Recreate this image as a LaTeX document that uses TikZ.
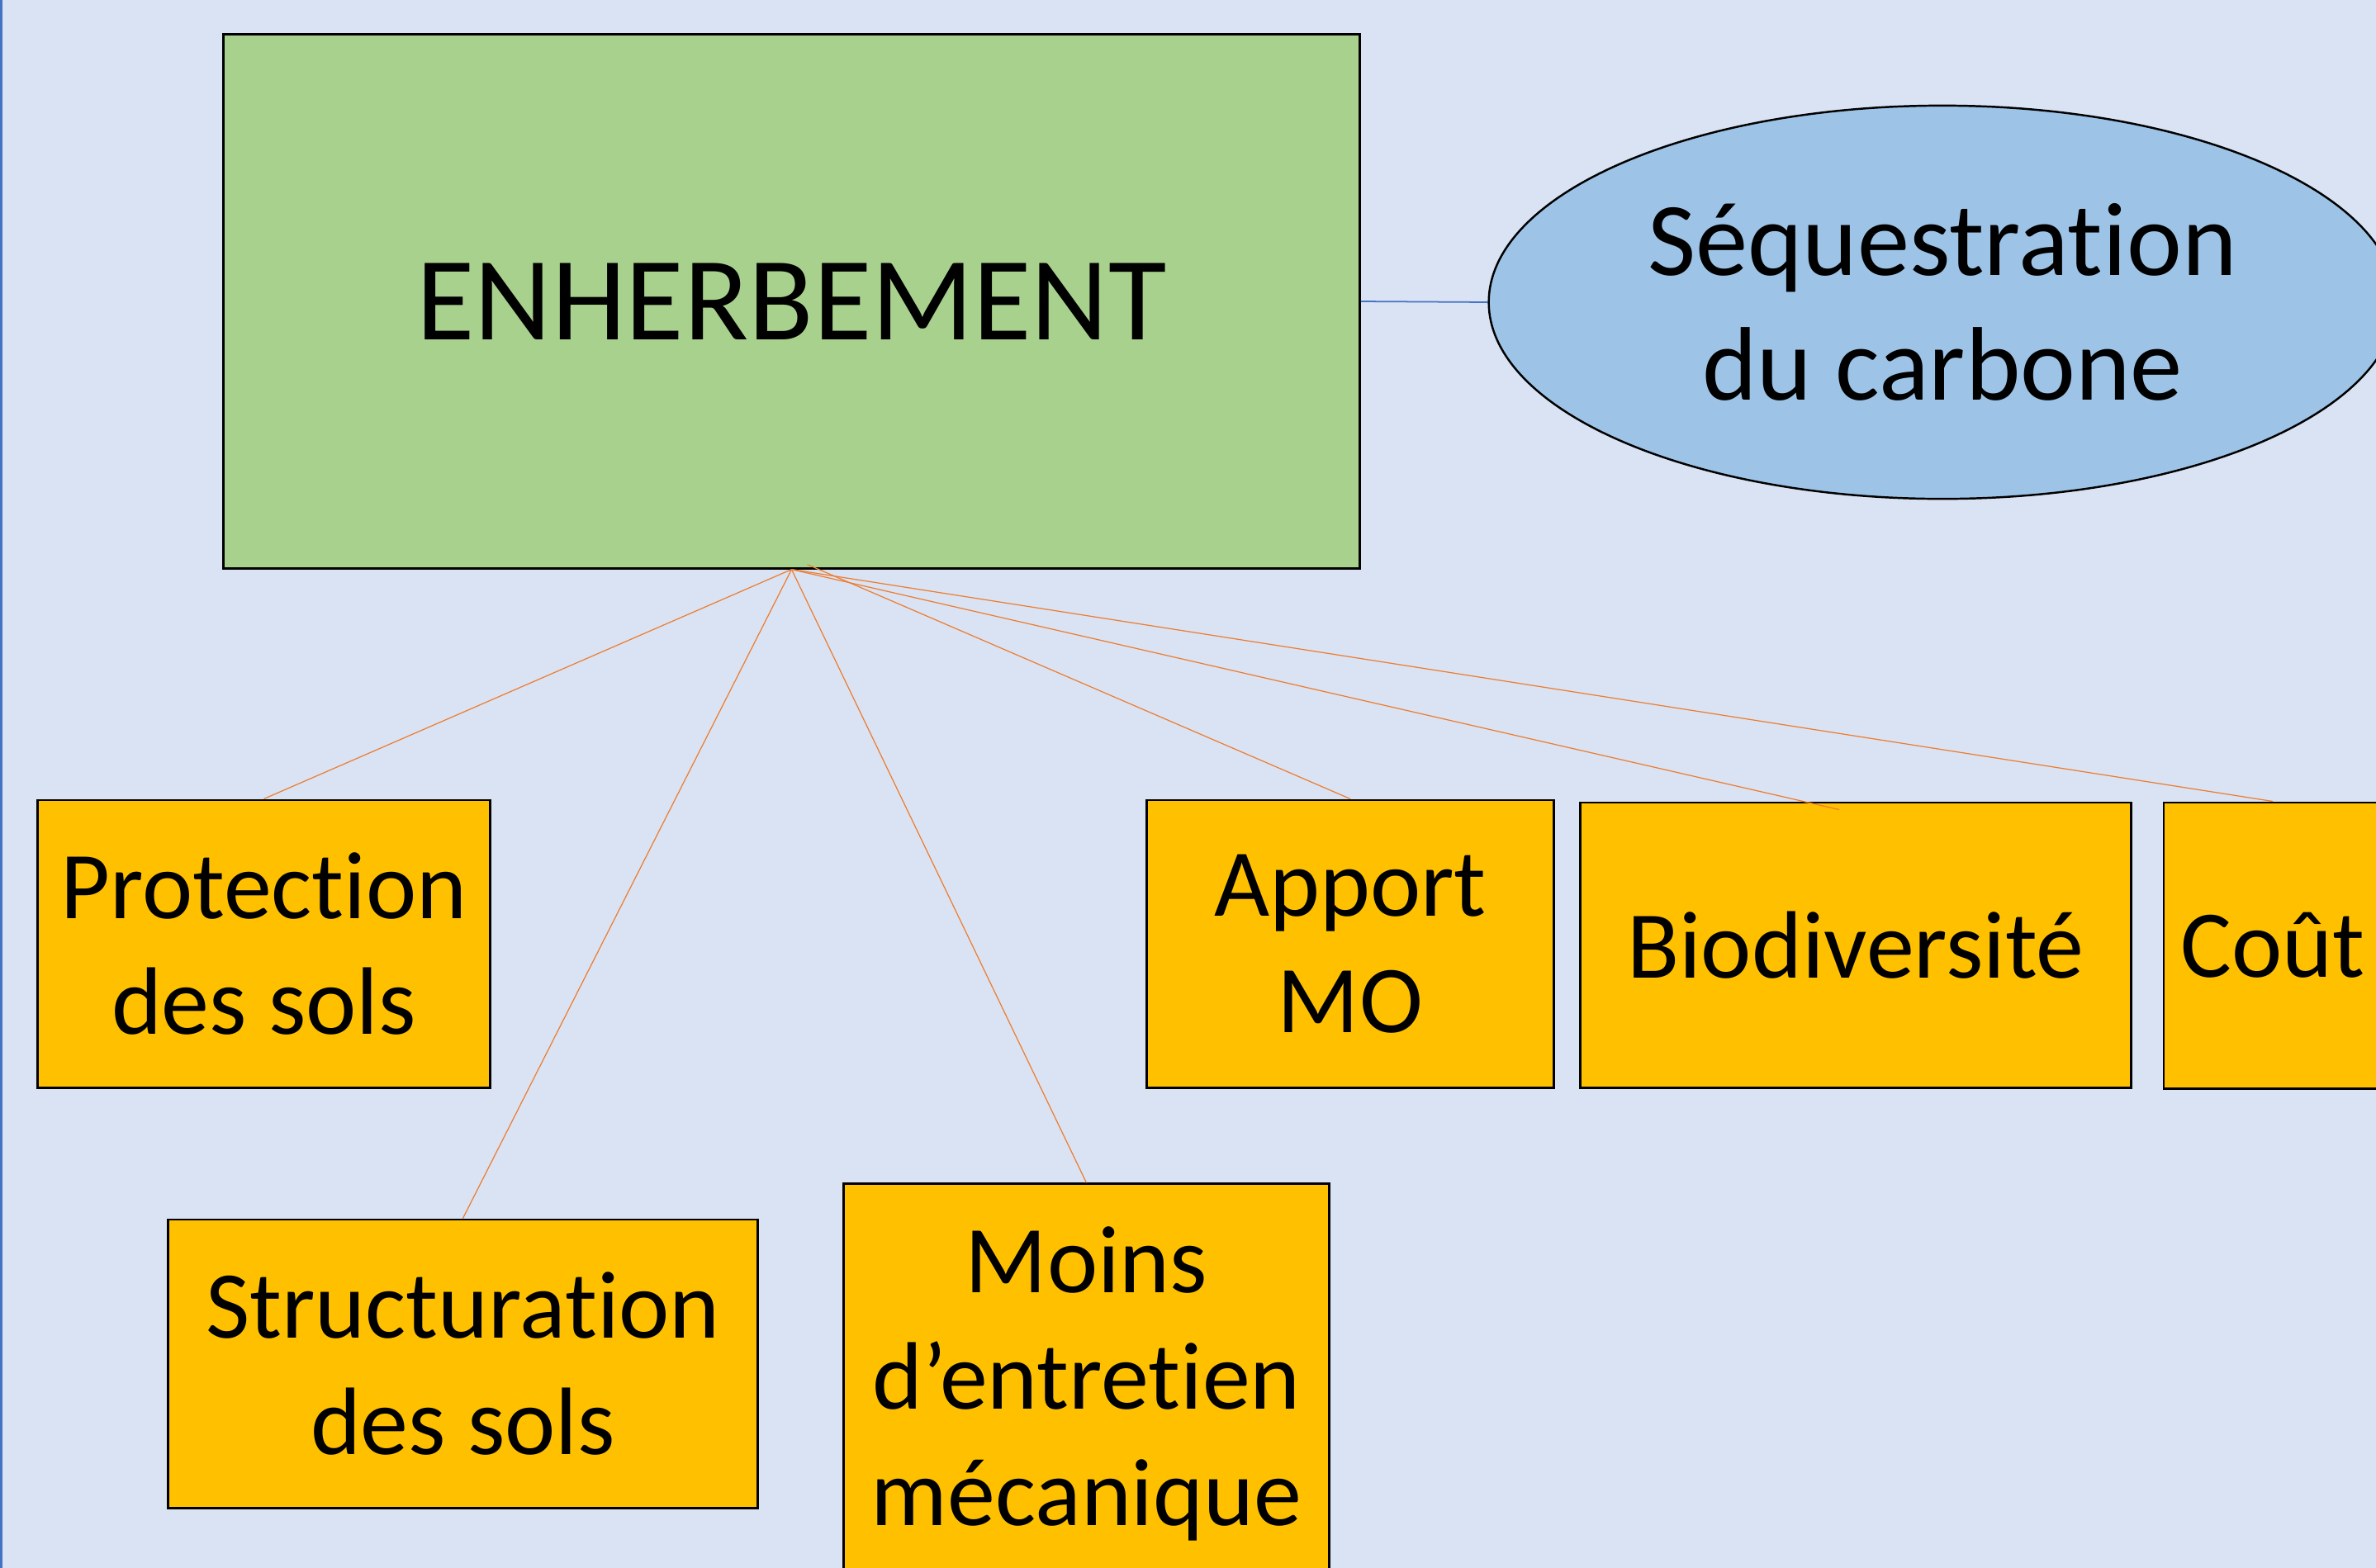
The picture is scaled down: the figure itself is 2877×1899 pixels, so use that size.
\documentclass[tikz,border=0pt]{standalone}
\usepackage{fontspec}
\setmainfont{Carlito}[Ligatures=NoCommon]
\usetikzlibrary{shapes.geometric}
\definecolor{fond}{HTML}{DAE3F3}
\definecolor{vert}{HTML}{A9D18E}
\definecolor{bleuclair}{HTML}{9DC3E6}
\definecolor{jaune}{HTML}{FFC000}
\definecolor{orange}{HTML}{ED7D31}
\definecolor{bleu}{HTML}{4472C4}

\begin{document}
\begin{tikzpicture}[x=0.01cm,y=-0.01cm,
  boite/.style={draw=black,line width=0.8pt,fill=jaune,align=center,inner sep=0pt,
    font=\fontsize{33}{40}\selectfont},
  lien/.style={draw=orange,line width=0.35pt}]
      \useasboundingbox (0,0) rectangle (2877,1899);
      \clip (0,0) rectangle (2877,1899);
      %fond
      \fill[fond] (0,0) rectangle (2877,1899);
      \draw[bleu,line width=1pt] (1,0) -- (1,1899);
      %boites
      \node[boite,fill=vert,minimum width=13.75cm,minimum height=6.46cm,
        font=\fontsize{41}{48}\selectfont] (enherb) at (958.5,365) {ENHERBEMENT};
      \node[ellipse,draw=black,line width=0.7pt,fill=bleuclair,align=center,
        minimum width=10.98cm,minimum height=4.76cm,inner sep=0pt,
        font=\fontsize{36}{43}\selectfont] (carbone) at (2352,366) {Séquestration\\du carbone};
      \node[boite,minimum width=5.47cm,minimum height=3.48cm] (protec) at (319.5,1143) {Protection\\des sols};
      \node[boite,minimum width=7.13cm,minimum height=3.49cm] (struct) at (560.5,1651.5) {Structuration\\des sols};
      \node[boite,minimum width=5.87cm,minimum height=4.84cm] (moins) at (1315.5,1676) {Moins\\d’entretien\\mécanique};
      \node[boite,minimum width=4.92cm,minimum height=3.48cm] (apport) at (1635,1143) {Apport\\MO};
      \node[boite,minimum width=6.66cm,minimum height=3.45cm] (biodiv) at (2247,1144.5) {Biodiversité};
      \node[boite,minimum width=2.64cm,minimum height=3.46cm] (cout) at (2752,1145) {Coût};
      %liens
      \draw[bleu,line width=0.5pt] (enherb.east) -- (carbone.west);
      \draw[lien] (enherb.south) -- (protec.north);
      \draw[lien] (enherb.south) -- (struct.north);
      \draw[lien] (enherb.south) -- (moins.north);
      \draw[lien] ([xshift=0.19cm,yshift=0.06cm]enherb.south) -- (apport.north);
      \draw[lien] (enherb.south) -- ([xshift=-0.2cm,yshift=-0.1cm]biodiv.north);
      \draw[lien] (enherb.south) -- (cout.north);
\end{tikzpicture}
\end{document}
